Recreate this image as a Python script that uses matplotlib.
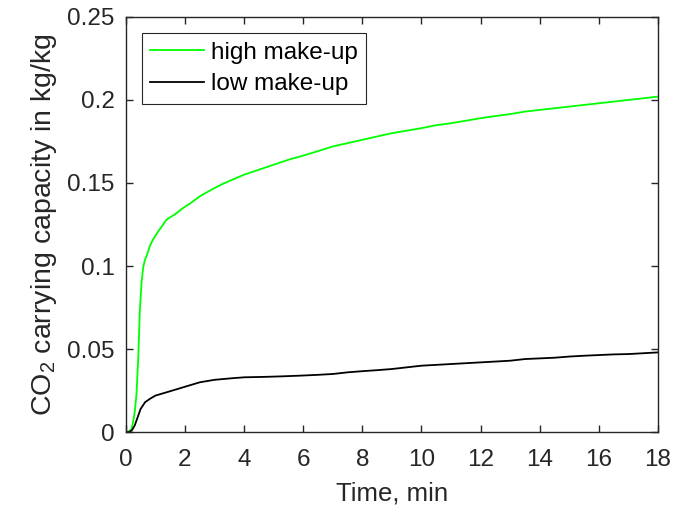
import numpy as np
import matplotlib.pyplot as plt

plt.rcParams['font.family'] = ['Liberation Sans', 'DejaVu Sans']
plt.rcParams['mathtext.fontset'] = 'custom'
plt.rcParams['mathtext.rm'] = 'Liberation Sans'
plt.rcParams['mathtext.default'] = 'regular'

# high make-up (green)
t_high = [0, 0.1, 0.2, 0.3, 0.36, 0.42, 0.47, 0.53, 0.59, 0.65, 0.7, 0.81, 0.92,
          1.1, 1.38, 1.65, 1.94, 2.2, 2.5, 2.9, 3.28, 3.6, 4, 4.5, 5, 5.5, 6, 6.5,
          7, 7.5, 8, 8.5, 9, 9.5, 10, 10.5, 11, 11.5, 12, 12.5, 13, 13.5, 14, 14.5,
          15, 15.5, 16, 16.5, 17, 17.5, 18]
y_high = [0, 0.0005, 0.002, 0.012, 0.023, 0.045, 0.072, 0.09, 0.0996, 0.104, 0.106,
          0.112, 0.116, 0.121, 0.128, 0.131, 0.135, 0.138, 0.142, 0.146, 0.1495,
          0.152, 0.155, 0.158, 0.161, 0.164, 0.1665, 0.1692, 0.172, 0.174, 0.176,
          0.178, 0.180, 0.1815, 0.183, 0.1848, 0.186, 0.1875, 0.189, 0.1903, 0.1915,
          0.193, 0.194, 0.195, 0.196, 0.197, 0.198, 0.199, 0.200, 0.201, 0.202]

# low make-up (black)
t_low = [0, 0.1, 0.2, 0.3, 0.4, 0.5, 0.65, 0.81, 1.0, 1.38, 1.94, 2.5, 3, 3.63, 4,
         4.76, 5.3, 5.89, 6.5, 7, 7.5, 8, 8.5, 9, 9.5, 10, 10.5, 11, 11.5, 12, 12.5,
         13, 13.5, 14, 14.5, 15, 15.5, 16, 16.5, 17, 17.5, 18]
y_low = [0, 0, 0.001, 0.004, 0.009, 0.014, 0.018, 0.020, 0.022, 0.024, 0.027, 0.030,
         0.0315, 0.0325, 0.033, 0.0333, 0.0336, 0.034, 0.0345, 0.035, 0.036, 0.0367,
         0.0373, 0.038, 0.039, 0.040, 0.0405, 0.041, 0.0415, 0.042, 0.0425, 0.043,
         0.044, 0.0444, 0.0448, 0.0455, 0.046, 0.0464, 0.0468, 0.047, 0.0475, 0.048]

x_ticks = list(range(0, 19, 2))
y_ticks = [0, 0.05, 0.1, 0.15, 0.2, 0.25]
y_tick_labels = ['0', '0.05', '0.1', '0.15', '0.2', '0.25']

fig = plt.figure(figsize=(6.84, 5.12), dpi=100)
ax = fig.add_axes([0.184, 0.156, 0.778, 0.811])

ax.plot(t_high, y_high, color=(0, 1, 0), lw=1.3, label='high make-up')
ax.plot(t_low, y_low, color='black', lw=1.3, label='low make-up')

ax.set_xlim(0, 18)
ax.set_ylim(0, 0.25)
ax.set_xticks(x_ticks)
ax.set_yticks(y_ticks)
ax.set_yticklabels(y_tick_labels)

dark = (0.15, 0.15, 0.15)
ax.tick_params(direction='in', top=True, right=True, length=5, width=1,
               labelsize=17.5, colors=dark)
ax.tick_params(axis='x', pad=12)
ax.tick_params(axis='y', pad=8)
for s in ax.spines.values():
    s.set_color(dark)
    s.set_linewidth(1)

ax.set_xlabel('Time, min', fontsize=18.5, color=dark, labelpad=8)
ax.set_ylabel('CO$_2$ carrying capacity in kg/kg', fontsize=20.5, color=dark, labelpad=6)

leg = ax.legend(loc='upper left', bbox_to_anchor=(0.03, 0.961), fontsize=17.5,
                fancybox=False, edgecolor=dark, framealpha=1, borderaxespad=0,
                handlelength=2.2, handletextpad=0.3, labelspacing=0.4,
                borderpad=0.35)
leg.get_frame().set_linewidth(0.8)

fig.savefig('out.png', dpi=100)
